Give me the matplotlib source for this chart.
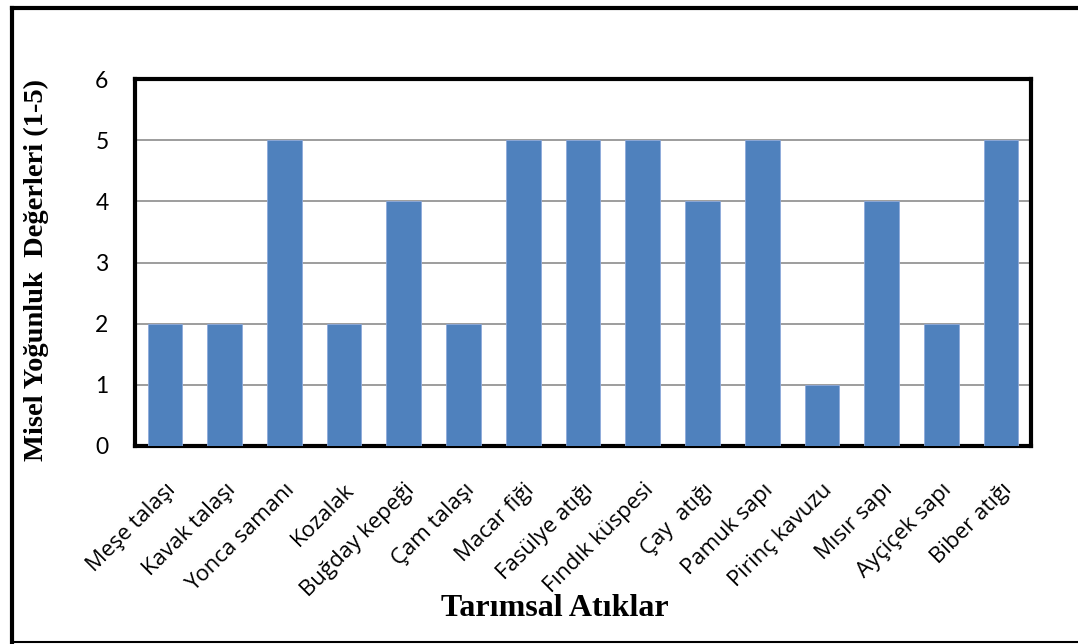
import matplotlib
matplotlib.use("Agg")
import matplotlib.pyplot as plt
from matplotlib.lines import Line2D

categories = ["Meşe talaşı", "Kavak talaşı", "Yonca samanı", "Kozalak",
              "Buğday kepeği", "Çam talaşı", "Macar fiği", "Fasülye atığı",
              "Fındık küspesi", "Çay  atığı", "Pamuk sapı", "Pirinç kavuzu",
              "Mısır sapı", "Ayçiçek sapı", "Biber atığı"]
values = [2, 2, 5, 2, 4, 2, 5, 5, 5, 4, 5, 1, 4, 2, 5]
yticks = [0, 1, 2, 3, 4, 5, 6]

W, H = 1078, 644
fig = plt.figure(figsize=(W / 100, H / 100), dpi=100)
ax = fig.add_axes([135 / W, 1 - 446 / H, (1031 - 135) / W, (446 - 79) / H])

x = list(range(len(categories)))
ax.bar(x, values, width=0.58, color="#4F81BD", edgecolor="#8EAADB",
       linewidth=0.6, zorder=3)

ax.set_xlim(-0.5, len(categories) - 0.5)
ax.set_ylim(0, 6)
ax.set_yticks(yticks)
ax.set_yticklabels([str(t) for t in yticks], fontsize=16.5, family="Lato")
ax.yaxis.grid(True, color="#8C8C8C", linewidth=1.2, zorder=0)
ax.tick_params(axis="y", length=0, pad=19)
ax.tick_params(axis="x", length=0, pad=24)

ax.set_xticks(x)
ax.set_xticklabels(categories, rotation=45, ha="right", rotation_mode="anchor",
                   fontsize=16, family="Open Sans")

for s in ax.spines.values():
    s.set_linewidth(3)
    s.set_color("black")

fig.text(36 / W, 1 - 270 / H, "Misel Yoğunluk  Değerleri (1-5)", rotation=90,
         ha="center", va="center", fontsize=20.5, fontweight="bold",
         family="Liberation Serif")
fig.text(555 / W, 1 - 608 / H, "Tarımsal Atıklar", ha="center", va="center",
         fontsize=23, fontweight="bold", family="Liberation Serif")

# outer frame (open on the right)
fig.add_artist(Line2D([12 / W, 12 / W], [1 - 8 / H, 1 - 642 / H],
                      transform=fig.transFigure, color="black", linewidth=3))
fig.add_artist(Line2D([12 / W, 1.0], [1 - 8 / H, 1 - 8 / H],
                      transform=fig.transFigure, color="black", linewidth=3))
fig.add_artist(Line2D([12 / W, 1.0], [1 - 642 / H, 1 - 642 / H],
                      transform=fig.transFigure, color="black", linewidth=1.5))

fig.savefig("out.png", dpi=100)
